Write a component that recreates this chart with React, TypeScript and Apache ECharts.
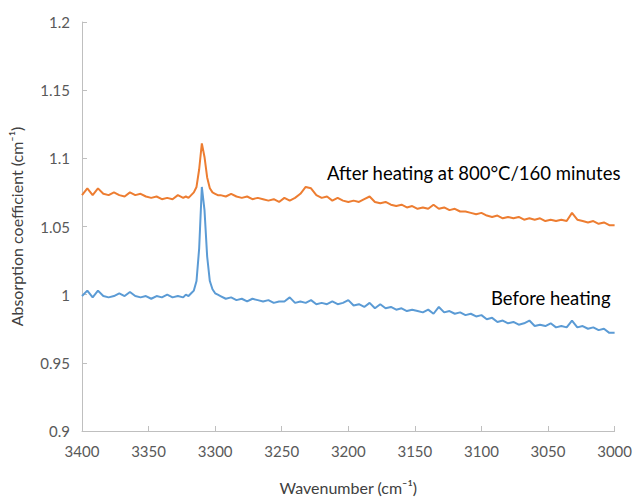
import React, { useEffect, useRef } from "react";
import * as echarts from "echarts";

const wavenumbers = [
  3400, 3396, 3392, 3388, 3384, 3380, 3376, 3372, 3368, 3364, 3360, 3356, 3352, 3348, 3344, 3340, 3336, 3332, 3328, 3324,
  3322, 3320, 3318, 3316, 3314, 3312, 3310, 3308, 3306, 3304, 3302, 3300, 3298, 3296,
  3292, 3288, 3284, 3280, 3276, 3272, 3268, 3264, 3260, 3256, 3252, 3248, 3244, 3240, 3236, 3232, 3228, 3224, 3220,
  3216, 3212, 3208, 3204, 3200, 3196, 3192, 3188, 3184, 3180, 3176, 3172, 3168, 3164, 3160, 3156, 3152, 3148, 3144,
  3140, 3136, 3132, 3128, 3124, 3120, 3116, 3112, 3108, 3104, 3100, 3096, 3092, 3088, 3084, 3080, 3076, 3072, 3068,
  3064, 3060, 3056, 3052, 3048, 3044, 3040, 3036, 3032, 3028, 3024, 3020, 3016, 3012, 3008, 3004, 3000,
];

const beforeHeating = [
  0.999, 1.003, 0.998, 1.003, 0.999, 0.998, 0.999, 1.001, 0.999, 1.002, 0.999, 0.998, 0.999, 0.997, 0.999, 0.998, 1.0, 0.998, 0.999, 0.998,
  1.0, 0.999, 1.001, 1.003, 1.01, 1.034, 1.079, 1.062, 1.028, 1.01, 1.004, 1.001, 1.0, 0.999,
  0.997, 0.998, 0.996, 0.997, 0.995, 0.997, 0.996, 0.995, 0.996, 0.994, 0.995, 0.995, 0.998, 0.994, 0.995, 0.994, 0.996, 0.993, 0.994,
  0.993, 0.995, 0.993, 0.994, 0.996, 0.992, 0.993, 0.991, 0.994, 0.99, 0.993, 0.99, 0.991, 0.989, 0.99, 0.988, 0.989, 0.988, 0.987,
  0.989, 0.986, 0.991, 0.987, 0.988, 0.986, 0.987, 0.985, 0.986, 0.984, 0.985, 0.982, 0.983, 0.98, 0.981, 0.979, 0.98, 0.978, 0.979,
  0.981, 0.977, 0.978, 0.977, 0.979, 0.976, 0.977, 0.976, 0.981, 0.976, 0.977, 0.975, 0.976, 0.974, 0.975, 0.972, 0.972,
];

const afterHeating = [
  1.073, 1.078, 1.073, 1.078, 1.074, 1.073, 1.075, 1.073, 1.072, 1.075, 1.073, 1.074, 1.072, 1.071, 1.072, 1.07, 1.071, 1.07, 1.073, 1.071,
  1.072, 1.071, 1.073, 1.075, 1.079, 1.092, 1.111, 1.101, 1.086, 1.078, 1.075, 1.074, 1.073, 1.073,
  1.072, 1.074, 1.072, 1.071, 1.072, 1.07, 1.071, 1.07, 1.069, 1.07, 1.068, 1.071, 1.069, 1.071, 1.074, 1.079, 1.078, 1.073, 1.071,
  1.072, 1.069, 1.071, 1.069, 1.068, 1.069, 1.068, 1.07, 1.072, 1.068, 1.067, 1.068, 1.066, 1.065, 1.066, 1.064, 1.065, 1.063, 1.064,
  1.063, 1.066, 1.063, 1.064, 1.062, 1.063, 1.061, 1.061, 1.06, 1.059, 1.06, 1.058, 1.057, 1.058, 1.056, 1.057, 1.056, 1.057, 1.055,
  1.056, 1.055, 1.056, 1.054, 1.055, 1.054, 1.055, 1.054, 1.06, 1.055, 1.054, 1.053, 1.054, 1.052, 1.053, 1.051, 1.051,
];

const seriesNames = ["Before heating", "After heating at 800°C/160 minutes"];
const xAxisTitle = "Wavenumber (cm⁻¹)";
const yAxisTitle = "Absorption coefficient (cm⁻¹)";

export default function App() {
  const ref = useRef<HTMLDivElement>(null);
  useEffect(() => {
    if (!ref.current) return;
    const chart = echarts.init(ref.current, undefined, { renderer: "svg" });
    const font = "Lato, 'Open Sans', sans-serif";
    const axisColor = "#bfbfbf";
    chart.setOption({
      animation: false,
      textStyle: { fontFamily: font },
      grid: { left: 80, right: 17, top: 22, bottom: 64 },
      xAxis: {
        type: "value",
        inverse: true,
        min: 3000,
        max: 3400,
        interval: 50,
        name: xAxisTitle,
        nameLocation: "middle",
        nameGap: 48,
        nameTextStyle: { color: "#404040", fontSize: 16, fontFamily: font },
        axisLine: { lineStyle: { color: axisColor } },
        axisTick: { inside: true, length: 5, lineStyle: { color: axisColor } },
        axisLabel: {
          color: "#595959",
          fontSize: 15,
          margin: 12,
          fontFamily: font,
          formatter: (v: number) => String(v),
        },
        splitLine: { show: false },
      },
      yAxis: {
        type: "value",
        min: 0.9,
        max: 1.2,
        interval: 0.05,
        name: yAxisTitle,
        nameLocation: "middle",
        nameGap: 58,
        nameTextStyle: { color: "#404040", fontSize: 16, fontFamily: font },
        axisLine: { show: true, lineStyle: { color: axisColor } },
        axisTick: { show: true, inside: true, length: 5, lineStyle: { color: axisColor } },
        axisLabel: {
          color: "#595959",
          fontSize: 15,
          margin: 12,
          fontFamily: font,
          formatter: (v: number) => String(+v.toFixed(2)),
        },
        splitLine: { show: false },
      },
      graphic: [
        {
          type: "text",
          left: 327,
          top: 163,
          style: { text: seriesNames[1], fill: "#000", font: `18.5px ${font}` },
        },
        {
          type: "text",
          left: 491,
          top: 288,
          style: { text: seriesNames[0], fill: "#000", font: `18.5px ${font}` },
        },
      ],
      series: [
        {
          name: seriesNames[0],
          type: "line",
          data: wavenumbers.map((w, i) => [w, beforeHeating[i]]),
          showSymbol: false,
          lineStyle: { color: "#5B9BD5", width: 2 },
          itemStyle: { color: "#5B9BD5" },
        },
        {
          name: seriesNames[1],
          type: "line",
          data: wavenumbers.map((w, i) => [w, afterHeating[i]]),
          showSymbol: false,
          lineStyle: { color: "#ED7D31", width: 2 },
          itemStyle: { color: "#ED7D31" },
        },
      ],
    });
    return () => chart.dispose();
  }, []);
  return <div ref={ref} style={{ width: 635, height: 500, position: "absolute", left: 0, top: 0 }} />;
}
